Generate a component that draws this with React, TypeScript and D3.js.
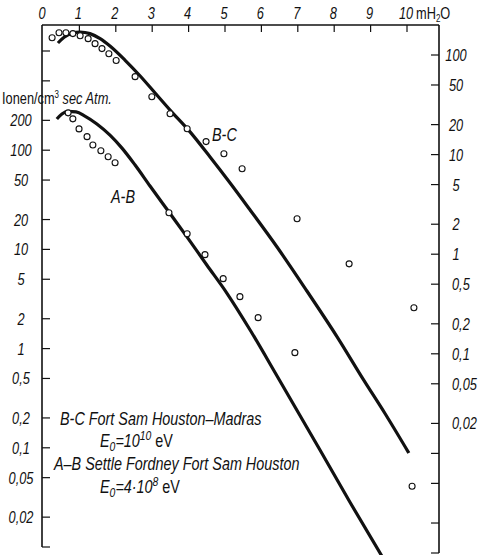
import React from "react";
import * as d3 from "d3";

const W = 479;
const H = 555;

// Depth axis (metres of water equivalent)
const depthTicks = [0, 1, 2, 3, 4, 5, 6, 7, 8, 9, 10];

// Left axis: ionisation rate, A-B
const leftTicks = [1000, 500, 200, 100, 50, 20, 10, 5, 2, 1, 0.5, 0.2, 0.1, 0.05, 0.02, 0.01];
const leftLabels = ["", "", "200", "100", "50", "20", "10", "5", "2", "1", "0,5", "0,2", "0,1", "0,05", "0,02", ""];

// Right axis: ionisation rate, B-C
const rightTicks = [100, 50, 20, 10, 5, 2, 1, 0.5, 0.2, 0.1, 0.05, 0.02, 0.01, 0.005, 0.002, 0.001];
const rightLabels = ["100", "50", "20", "10", "5", "2", "1", "0,5", "0,2", "0,1", "0,05", "0,02", "", "", "", ""];

// B-C curve (right axis)
const bcCurveDepth = [0.41, 0.58, 0.8, 1.02, 1.29, 1.57, 1.84, 2.25, 2.67, 3.08, 3.49, 4.04, 4.59, 5.14, 5.69, 6.43, 7.25, 8.08, 8.79, 9.4, 10.05];
const bcCurveRate = [132, 151, 166, 170, 164, 146, 123, 89, 61.5, 41.5, 28, 16.9, 9.46, 5.19, 2.78, 1.18, 0.427, 0.148, 0.056, 0.025, 0.0101];

// B-C measurements (right axis)
const bcObsDepth = [0.25, 0.44, 0.63, 0.82, 1.02, 1.24, 1.43, 1.62, 1.81, 2.01, 2.53, 2.99, 3.49, 3.96, 4.48, 4.97, 5.47, 6.98, 8.41, 10.19];
const bcObsRate = [149, 167, 167, 164, 156, 146, 130, 116, 103, 88, 60.6, 38.1, 25.7, 18.2, 13.5, 10.2, 7.2, 2.27, 0.8, 0.29];

// A-B curve (left axis)
const abCurveDepth = [0.38, 0.52, 0.69, 0.91, 1.15, 1.48, 1.84, 2.17, 2.53, 2.94, 3.46, 3.96, 4.5, 5.05, 5.69, 6.43, 7.61, 8.43, 9.31];
const abCurveRate = [206, 232, 246, 243, 221, 184, 142, 105, 70.9, 43.6, 23.8, 13.3, 6.96, 3.63, 1.54, 0.53, 0.0951, 0.0284, 0.0081];

// A-B measurements (left axis)
const abObsDepth = [0.69, 0.82, 0.99, 1.21, 1.37, 1.59, 1.79, 1.98, 3.46, 3.96, 4.45, 4.95, 5.41, 5.91, 6.92, 10.14];
const abObsRate = [238, 207, 164, 137, 113, 98.6, 85.9, 74.7, 23.4, 14.4, 8.85, 5.07, 3.34, 2.05, 0.91, 0.041];

const FONT = "'Liberation Sans', Arial, sans-serif";

const x = d3.scaleLinear().domain([0, 10]).range([43, 407]);
const yL = d3.scaleLog().domain([0.01, 1000]).range([547, 51]);
const yR = d3.scaleLog().domain([0.001, 100]).range([553, 55]);

const frameTop = 25;
const leftX = 42;
const rightX = 439;

type TProps = {
  x: number;
  y: number;
  anchor?: "start" | "middle" | "end";
  size?: number;
  sx?: number;
  italic?: boolean;
  children: React.ReactNode;
};

function T({ x, y, anchor = "start", size = 16, sx = 0.8, italic = true, children }: TProps) {
  return (
    <text
      transform={`translate(${x},${y}) scale(${sx},1)`}
      textAnchor={anchor}
      fontSize={size}
      fontStyle={italic ? "italic" : "normal"}
      fontFamily={FONT}
      fill="#111"
    >
      {children}
    </text>
  );
}

export default function App() {
  const bcLine = d3
    .line<number>()
    .x((d) => x(d))
    .y((_, i) => yR(bcCurveRate[i]))
    .curve(d3.curveMonotoneX);
  const abLine = d3
    .line<number>()
    .x((d) => x(d))
    .y((_, i) => yL(abCurveRate[i]))
    .curve(d3.curveMonotoneX);

  return (
    <svg width={W} height={H} style={{ position: "absolute", left: 0, top: 0, background: "#fff" }}>
      {/* frame */}
      <g stroke="#111" strokeWidth={1.6} fill="none">
        <line x1={leftX} y1={frameTop} x2={rightX} y2={frameTop} />
        <line x1={leftX} y1={frameTop} x2={leftX} y2={yL(0.01)} />
        <line x1={rightX} y1={frameTop} x2={rightX} y2={yR(0.001)} />
      </g>

      {/* depth ticks and labels */}
      {depthTicks.map((d) => (
        <g key={`dt${d}`}>
          {d > 0 && <line x1={x(d)} x2={x(d)} y1={frameTop} y2={frameTop + 7} stroke="#111" strokeWidth={1.2} />}
          <T x={x(d) - 1} y={19} anchor="middle">
            {String(d)}
          </T>
        </g>
      ))}
      <T x={416} y={19} italic={false}>
        mH<tspan fontSize={10} dy={3}>2</tspan>
        <tspan dy={-3}>O</tspan>
      </T>

      {/* left axis ticks */}
      {leftTicks.map((v, i) => (
        <g key={`lt${i}`}>
          <line x1={leftX} x2={leftX + 8} y1={yL(v)} y2={yL(v)} stroke="#111" strokeWidth={1.2} />
          {leftLabels[i] && (
            <T x={21} y={yL(v) + 6} anchor="middle">
              {leftLabels[i]}
            </T>
          )}
        </g>
      ))}
      <T x={2} y={104} size={16} italic={false}>
        Ionen/cm<tspan fontSize={10} dy={-6}>3</tspan>
        <tspan dy={6} fontStyle="italic"> sec Atm.</tspan>
      </T>

      {/* right axis ticks */}
      {rightTicks.map((v, i) => (
        <g key={`rt${i}`}>
          <line x1={rightX - 8} x2={rightX} y1={yR(v)} y2={yR(v)} stroke="#111" strokeWidth={1.2} />
          {rightLabels[i] &&
            (rightLabels[i].includes(",") ? (
              <T x={452} y={yR(v) + 6}>{rightLabels[i]}</T>
            ) : (
              <T x={456} y={yR(v) + 6} anchor="middle">
                {rightLabels[i]}
              </T>
            ))}
        </g>
      ))}

      {/* curves */}
      <g fill="none" stroke="#111" strokeWidth={3.2} strokeLinecap="butt">
        <path d={bcLine(bcCurveDepth) || ""} />
        <path d={abLine(abCurveDepth) || ""} />
      </g>

      {/* measurements */}
      <g fill="#fff" stroke="#111" strokeWidth={1.1}>
        {bcObsDepth.map((d, i) => (
          <circle key={`bc${i}`} cx={x(d)} cy={yR(bcObsRate[i])} r={3} />
        ))}
        {abObsDepth.map((d, i) => (
          <circle key={`ab${i}`} cx={x(d)} cy={yL(abObsRate[i])} r={3} />
        ))}
      </g>

      {/* curve names */}
      <T x={212} y={141} size={18}>B-C</T>
      <T x={111} y={203} size={18}>A-B</T>

      {/* legend */}
      <T x={60} y={425} size={18}>B-C  Fort Sam Houston–Madras</T>
      <T x={100} y={447} size={18}>
        E<tspan fontSize={13} dy={4}>0</tspan>
        <tspan dy={-4}>=10</tspan>
        <tspan fontSize={13} dy={-7}>10</tspan>
        <tspan dy={7} fontStyle="normal"> eV</tspan>
      </T>
      <T x={54} y={470} size={18}>A–B Settle Fordney Fort Sam Houston</T>
      <T x={100} y={493} size={18}>
        E<tspan fontSize={13} dy={4}>0</tspan>
        <tspan dy={-4}>=4·10</tspan>
        <tspan fontSize={13} dy={-7}>8</tspan>
        <tspan dy={7} fontStyle="normal"> eV</tspan>
      </T>
    </svg>
  );
}
